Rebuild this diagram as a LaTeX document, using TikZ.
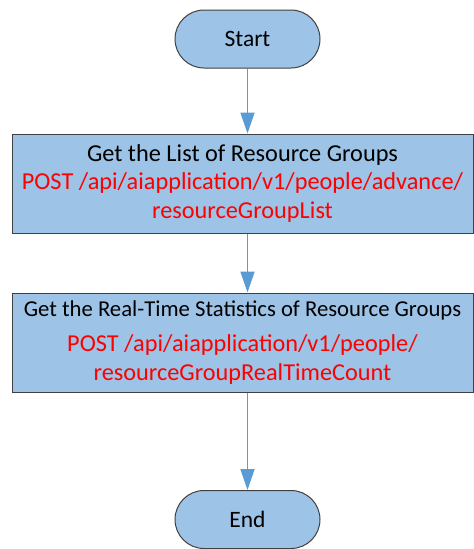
\documentclass[tikz,border=0pt]{standalone}
\usepackage{fontspec}
\setmainfont{Carlito}
\usetikzlibrary{arrows.meta}
\definecolor{boxfill}{HTML}{9DC3E6}
\definecolor{arrowc}{HTML}{5B9BD5}
\definecolor{edgec}{HTML}{404040}
\definecolor{redc}{HTML}{FF0000}
\tikzset{
  term/.style={draw=edgec, line width=1pt, fill=boxfill, rounded corners=29pt, minimum width=145pt, minimum height=58pt, inner sep=0pt, font=\fontsize{23.5}{29}\selectfont},
  procbox/.style={draw=edgec, line width=1pt, fill=boxfill, minimum width=461pt, minimum height=99pt, inner sep=0pt, align=center, font=\fontsize{24.3}{28.5}\selectfont},
  flow/.style={draw=arrowc, line width=1.8pt, -{Triangle[length=21pt,width=14pt]}}
}
\begin{document}
\begin{tikzpicture}[x=1pt,y=-1pt]
\useasboundingbox (0,0) rectangle (474,549);
\node[term] (start) at (247.5,39) {Start};
\node[procbox] (list) at (242.5,183.5) {Get the List of Resource Groups\\ \textcolor{redc}{POST /api/aiapplication/v1/people/advance/}\\ \textcolor{redc}{resourceGroupList}};
\node[procbox] (stats) at (242.5,342.5) {\fontsize{22.7}{28.5}\selectfont Get the Real-Time Statistics of Resource Groups\\[7pt] \textcolor{redc}{POST /api/aiapplication/v1/people/}\\ \textcolor{redc}{resourceGroupRealTimeCount}};
\node[term] (end) at (247.5,519.5) {End};
\draw[flow] (start.south) -- (start.south |- list.north);
\draw[flow] (start.south |- list.south) -- (start.south |- stats.north);
\draw[flow] (start.south |- stats.south) -- (end.north);
\end{tikzpicture}
\end{document}
